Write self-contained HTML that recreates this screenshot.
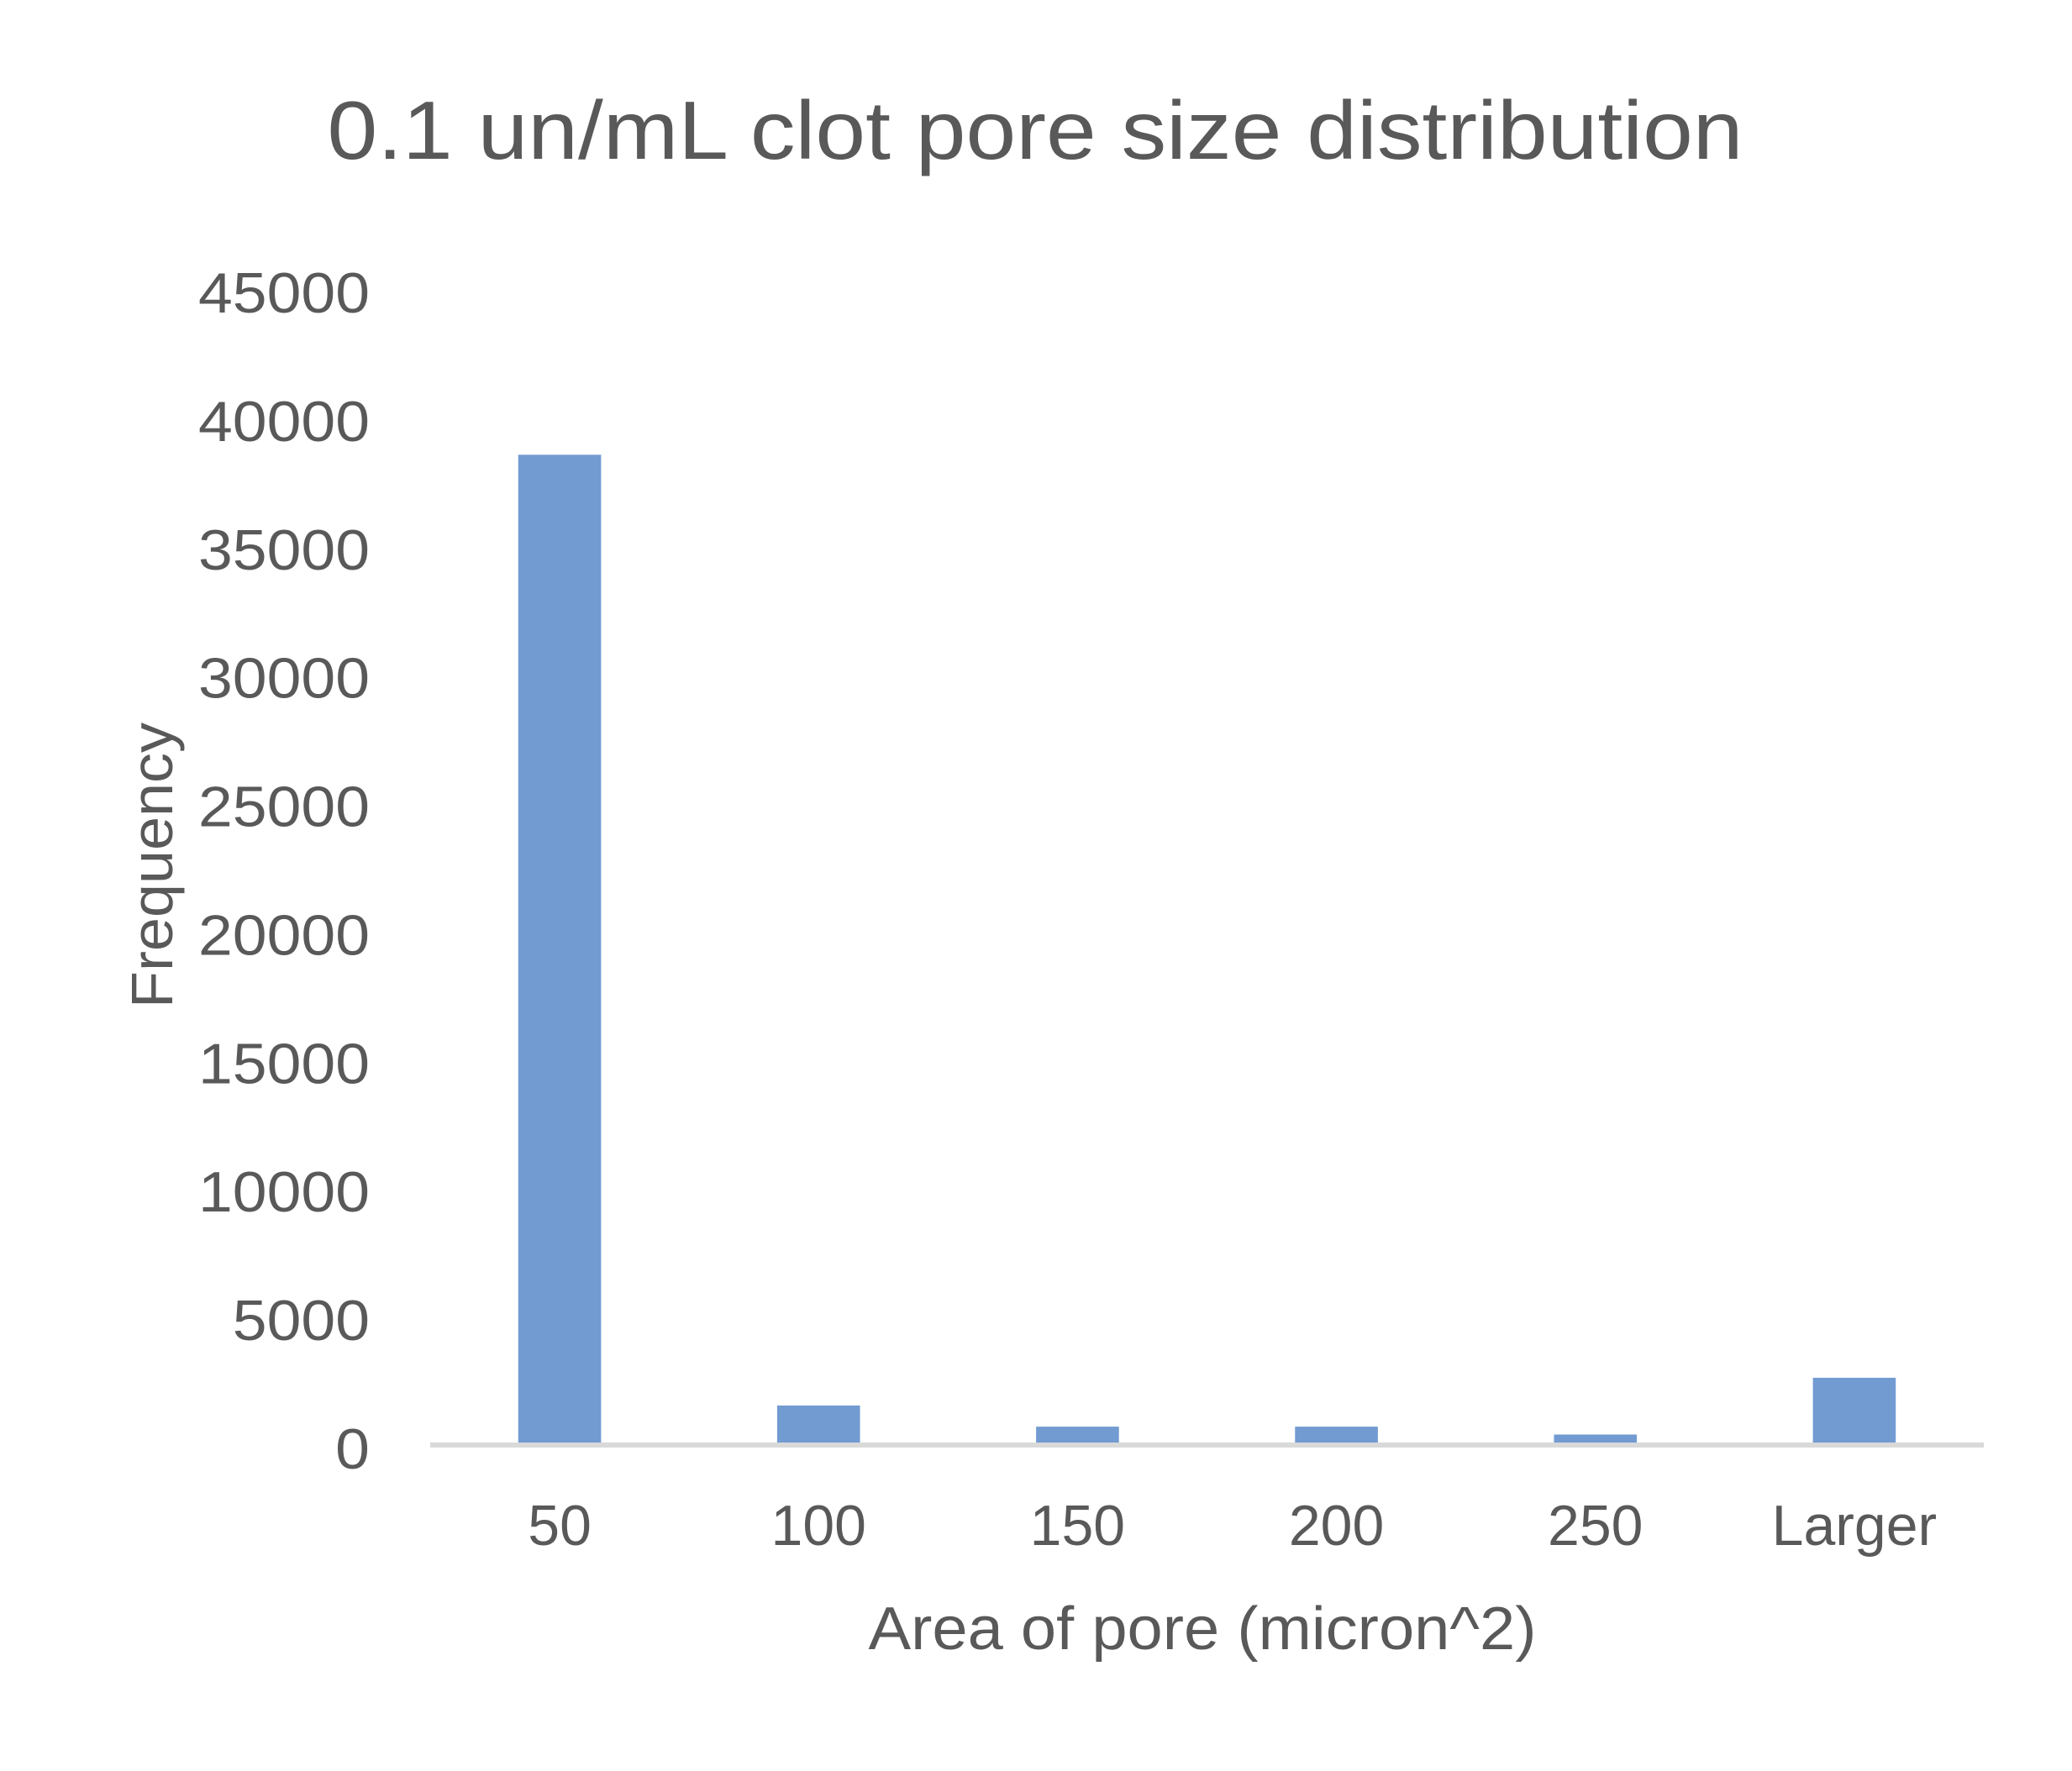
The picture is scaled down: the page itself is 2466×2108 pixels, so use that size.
<!DOCTYPE html>
<html><head><meta charset="utf-8"><style>
html,body{margin:0;padding:0;background:#fff;}
svg{display:block;}
text{font-family:"Liberation Sans",sans-serif;fill:#595959;}
</style></head><body>
<svg id="chart" width="2466" height="2108" viewBox="0 0 2466 2108">
<text x="1232" y="189" text-anchor="middle" font-size="98" textLength="1685" lengthAdjust="spacingAndGlyphs">0.1 un/mL clot pore size distribution</text>
<text transform="translate(205,1030) rotate(-90)" text-anchor="middle" font-size="70" textLength="340" lengthAdjust="spacingAndGlyphs">Frequency</text>
<text x="1431" y="1963" text-anchor="middle" font-size="72" textLength="795" lengthAdjust="spacingAndGlyphs">Area of pore (micron^2)</text>
<g id="yticks"></g><g id="bars"></g><g id="xticks"></g>
<rect x="512" y="1717" width="1849" height="6" fill="#d9d9d9"/>
</svg>
<script>
const categories = ["50","100","150","200","250","Larger"];
const frequencies = [38450, 1440, 617, 617, 310, 2520];
const yTickValues = [0,5000,10000,15000,20000,25000,30000,35000,40000,45000];
const NS="http://www.w3.org/2000/svg";
const plotLeft=512, plotRight=2361, y0=1717, yTop=341, yMax=45000;
const yScale=v=>y0-(v/yMax)*(y0-yTop);
const band=(plotRight-plotLeft)/categories.length;
const xCenter=i=>plotLeft+band*(i+0.5);
const barW=band*0.32;
const yt=document.getElementById('yticks');
yTickValues.forEach(v=>{
  const t=document.createElementNS(NS,'text');
  
  
  t.setAttribute('x',440);t.setAttribute('y',yScale(v)+31);
  t.setAttribute('text-anchor','end');t.setAttribute('font-size','68');
  const s=String(v);
  t.setAttribute('textLength',s.length*40.8);
  t.setAttribute('lengthAdjust','spacingAndGlyphs');
  t.textContent=s;yt.appendChild(t);
});
const bg=document.getElementById('bars'), xt=document.getElementById('xticks');
categories.forEach((c,i)=>{
  const r=document.createElementNS(NS,'rect');
  
  
  const y=yScale(frequencies[i]);
  r.setAttribute('x',xCenter(i)-barW/2);r.setAttribute('y',y);
  r.setAttribute('width',barW);r.setAttribute('height',y0-y);
  r.setAttribute('fill','#729bd2');bg.appendChild(r);
  const t=document.createElementNS(NS,'text');
  
  
  t.setAttribute('x',xCenter(i));t.setAttribute('y',1839);
  t.setAttribute('text-anchor','middle');t.setAttribute('font-size','68');
  t.textContent=c;xt.appendChild(t);
});
</script>
</body></html>
